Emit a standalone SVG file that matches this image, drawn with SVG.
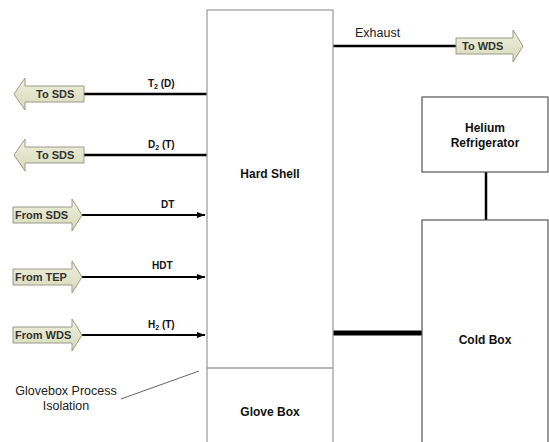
<svg xmlns="http://www.w3.org/2000/svg" width="549" height="442" viewBox="0 0 549 442">
<defs>
<linearGradient id="ag" x1="0" y1="0" x2="0" y2="1">
<stop offset="0" stop-color="#eef0dc"/>
<stop offset="1" stop-color="#d6dab8"/>
</linearGradient>
<marker id="ah" markerWidth="8" markerHeight="6" refX="8" refY="3" orient="auto" markerUnits="userSpaceOnUse">
<path d="M0,0 L8,3 L0,6 Z" fill="#000"/>
</marker>
<style>
.box{fill:#fff;stroke:#a0a0a0;stroke-width:1.3}
.box2{fill:#fff;stroke:#555;stroke-width:1.2}
.arr{fill:url(#ag);stroke:#9a9a8a;stroke-width:1}
.at{font-family:"Liberation Sans",Arial,sans-serif;font-size:11px;font-weight:bold;fill:#333}
.bt{font-family:"Liberation Sans",Arial,sans-serif;font-size:12px;font-weight:bold;fill:#111;text-anchor:middle}
.lt{font-family:"Liberation Sans",Arial,sans-serif;font-size:10px;font-weight:bold;fill:#111}
.nt{font-family:"Liberation Sans",Arial,sans-serif;font-size:12.5px;fill:#222}
.ln{stroke:#000;stroke-width:2.5;fill:none}
.lni{stroke:#000;stroke-width:2;fill:none}
</style>
</defs>
<g id="connectors">
<line class="ln" x1="333" y1="46" x2="456" y2="46"/>
<line class="ln" x1="84" y1="94" x2="207" y2="94"/>
<line class="ln" x1="84" y1="155" x2="207" y2="155"/>
<line class="lni" x1="82" y1="215" x2="205" y2="215" marker-end="url(#ah)"/>
<line class="lni" x1="82" y1="277" x2="205" y2="277" marker-end="url(#ah)"/>
<line class="lni" x1="82" y1="335" x2="205" y2="335" marker-end="url(#ah)"/>
<line stroke="#000" stroke-width="5" stroke-linecap="round" x1="334" y1="333" x2="421" y2="333"/>
<line stroke="#000" stroke-width="2.5" x1="486" y1="172" x2="486" y2="220"/>
<line stroke="#666" stroke-width="1" x1="121" y1="399" x2="199" y2="371"/>
<text class="nt" x="355" y="37">Exhaust</text>
<text class="lt" x="148" y="87">T<tspan font-size="7" dy="2">2</tspan><tspan dy="-2"> (D)</tspan></text>
<text class="lt" x="148" y="148">D<tspan font-size="7" dy="2">2</tspan><tspan dy="-2"> (T)</tspan></text>
<text class="lt" x="161" y="208">DT</text>
<text class="lt" x="152" y="269">HDT</text>
<text class="lt" x="148" y="328">H<tspan font-size="7" dy="2">2</tspan><tspan dy="-2"> (T)</tspan></text>
</g>
<g id="hard-shell">
<rect class="box" x="207" y="10" width="126" height="440"/>
<text class="bt" x="270" y="178">Hard Shell</text>
</g>
<g id="glove-box">
<line stroke="#a0a0a0" stroke-width="1.3" x1="207" y1="368" x2="333" y2="368"/>
<text class="bt" x="270" y="416">Glove Box</text>
</g>
<g id="glovebox-label">
<text class="nt" x="66" y="395" text-anchor="middle">Glovebox Process</text>
<text class="nt" x="66" y="410" text-anchor="middle">Isolation</text>
</g>
<g id="helium-refrigerator">
<rect class="box2" x="422" y="97" width="126" height="75"/>
<text class="bt" x="485" y="132">Helium</text>
<text class="bt" x="485" y="147">Refrigerator</text>
</g>
<g id="cold-box">
<rect class="box2" x="422" y="220" width="126" height="230"/>
<text class="bt" x="485" y="344">Cold Box</text>
</g>
<g id="to-wds">
<path class="arr" d="M456,38 L513,38 L513,30 L523,46 L513,62 L513,54 L456,54 Z"/>
<text class="at" x="462" y="50">To WDS</text>
</g>
<g id="to-sds-1">
<path class="arr" d="M84,86 L25,86 L25,78 L14,94 L25,110 L25,102 L84,102 Z"/>
<text class="at" x="36" y="98">To SDS</text>
</g>
<g id="to-sds-2">
<path class="arr" d="M84,147 L25,147 L25,139 L14,155 L25,171 L25,163 L84,163 Z"/>
<text class="at" x="36" y="159">To SDS</text>
</g>
<g id="from-sds">
<path class="arr" d="M13,207 L72,207 L72,199 L82,215 L72,231 L72,223 L13,223 Z"/>
<text class="at" x="15" y="219">From SDS</text>
</g>
<g id="from-tep">
<path class="arr" d="M13,269 L72,269 L72,261 L82,277 L72,293 L72,285 L13,285 Z"/>
<text class="at" x="15" y="281">From TEP</text>
</g>
<g id="from-wds">
<path class="arr" d="M13,327 L72,327 L72,319 L82,335 L72,351 L72,343 L13,343 Z"/>
<text class="at" x="15" y="339">From WDS</text>
</g>
</svg>
